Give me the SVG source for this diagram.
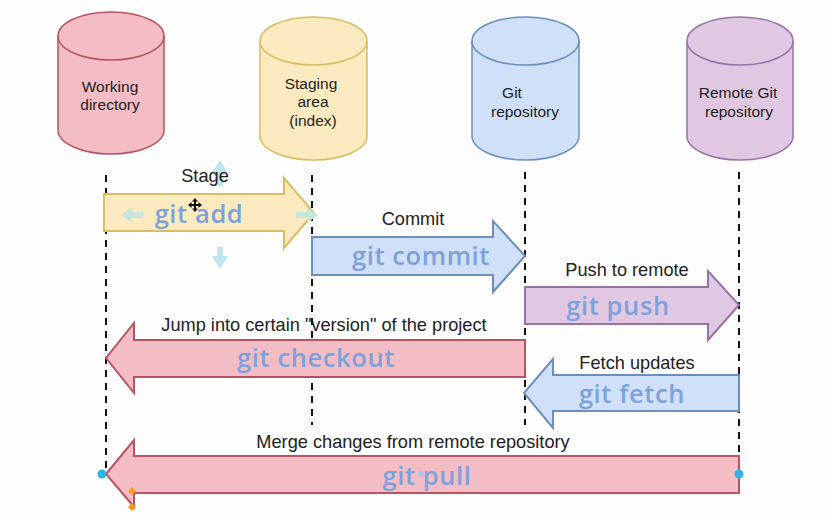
<svg xmlns="http://www.w3.org/2000/svg" width="832" height="515" viewBox="0 0 832 515">
<defs><style>
text{font-family:"Liberation Sans",Arial,sans-serif;font-size:18.2px;fill:#222;text-anchor:middle}
.git{font-family:"Open Sans","DejaVu Sans",sans-serif;font-size:25.500px;font-weight:600;fill:#7ea1db;letter-spacing:.6px}
.ctext{font-size:15.500px}
.life{stroke:#111;stroke-width:2;stroke-dasharray:7 6;fill:none}
.arrow{stroke-width:2;stroke-linejoin:miter}
.cyl{stroke-width:1.5}
.pink{fill:#f4bcc4;stroke:#b85460}
.yel{fill:#fbeac0;stroke:#d9bd62}
.blue{fill:#d0e0f8;stroke:#6c8ebf}
.pur{fill:#e0c8e2;stroke:#9673a6}
.hint{fill:#bfe5f3;stroke:none}
.hintg{fill:#c5e6d8;stroke:none}
</style></defs>
<rect width="832" height="515" fill="#fdfdfd"/>
<g id="connectors">
<path class="life" d="M106 175V470"/>
<path class="life" d="M312 175V425"/>
<path class="life" d="M525 172V425"/>
<path class="life" d="M739 172V470"/>
</g>
<g id="working-directory"><path class="cyl pink" d="M58 36A53 24 0 0 1 164 36V130A53 24 0 0 1 58 130Z"/><path class="cyl pink" d="M58 36A53 24 0 0 0 164 36" style="fill:none"/><text class="ctext" x="110" y="92">Working</text><text class="ctext" x="110" y="110">directory</text></g>
<g id="staging-area"><path class="cyl yel" d="M260 41A53.500 24 0 0 1 367 41V136A53.500 24 0 0 1 260 136Z"/><path class="cyl yel" d="M260 41A53.500 24 0 0 0 367 41" style="fill:none"/><text class="ctext" x="311" y="89">Staging</text><text class="ctext" x="313" y="107">area</text><text class="ctext" x="313" y="126">(index)</text></g>
<g id="git-repository"><path class="cyl blue" d="M472 41A53.500 24 0 0 1 579 41V136A53.500 24 0 0 1 472 136Z"/><path class="cyl blue" d="M472 41A53.500 24 0 0 0 579 41" style="fill:none"/><text class="ctext" x="512" y="98">Git</text><text class="ctext" x="525" y="117">repository</text></g>
<g id="remote-repository"><path class="cyl pur" d="M687 41A53 24 0 0 1 793 41V136A53 24 0 0 1 687 136Z"/><path class="cyl pur" d="M687 41A53 24 0 0 0 793 41" style="fill:none"/><text class="ctext" x="738" y="98">Remote Git</text><text class="ctext" x="739" y="117">repository</text></g>
<g id="git-add"><path class="arrow yel" d="M104 194H284V178L314 213L284 248V231H104Z"/>
<path class="hint" d="M220 160L228 173H223V186H217V173H212Z"/><path class="hint" d="M220 269L228 256H223V247H217V256H212Z"/><path class="hintg" d="M121 215L132 207V212H143V218H132V223Z"/><path class="hintg" d="M296 212H307V207L318 215L307 223V218H296Z"/>
<text x="205" y="182">Stage</text><text class="git" x="199" y="223">git add</text>
<path d="M195 198L198 201.500H196V204H198.500V202L202 205L198.500 208V206H196V208.500H198L195 212L192 208.500H194V206H191.500V208L188 205L191.500 202V204H194V201.500H192Z" fill="#111"/></g>
<g id="git-commit"><path class="arrow blue" d="M312 237H493V221L525 256L493 292V275H312Z"/><text x="413" y="225">Commit</text><text class="git" x="421" y="265">git commit</text></g>
<g id="git-push"><path class="arrow pur" d="M525 287H708V271L739 305L708 340V324H525Z"/><text x="627" y="276">Push to remote</text><text class="git" x="618" y="315">git push</text></g>
<g id="git-checkout"><path class="arrow pink" d="M525 340H134V323L106 358L134 393V377H525Z"/><text x="324" y="331">Jump into certain "version" of the project</text><text class="git" x="316" y="367">git checkout</text></g>
<g id="git-fetch"><path class="arrow blue" d="M739 375H553V359L524 393L553 428V411H739Z"/><text x="637" y="369">Fetch updates</text><text class="git" x="632" y="403">git fetch</text></g>
<g id="git-pull"><path class="arrow pink" d="M739 456H134V440L106 474L134 507V493H739Z"/><text x="413" y="448">Merge changes from remote repository</text><text class="git" x="427" y="485">git pull</text>
<circle cx="421" cy="474" r="3" fill="#a9c4e8"/>
<circle cx="102" cy="474" r="4.500" fill="#2fb2e5"/><circle cx="739" cy="474" r="4.500" fill="#2fb2e5"/>
<path d="M132 487L136 491L132 495L128 491ZM132 503L136 507L132 511L128 507Z" fill="#f39c1f"/></g>
</svg>
